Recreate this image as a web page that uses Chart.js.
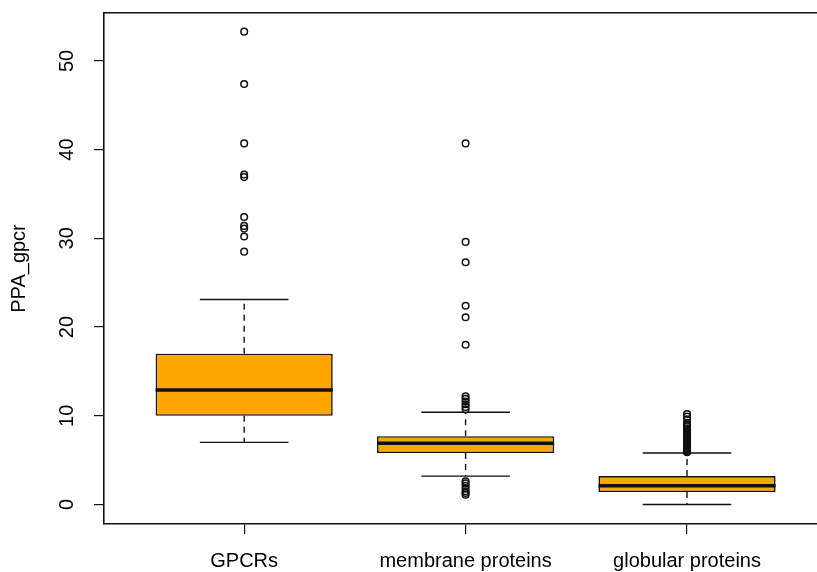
<!DOCTYPE html>
<html>
<head>
<meta charset="utf-8">
<script src="https://cdn.jsdelivr.net/npm/chart.js@4/dist/chart.umd.min.js"></script>
<style>
html,body{margin:0;padding:0;background:#fff;overflow:hidden}
canvas{display:block}
</style>
</head>
<body>
<canvas id="c" width="817" height="572"></canvas>
<script>
// boxplot stats
const groups = ["GPCRs","membrane proteins","globular proteins"];
const lowerWhisker = [7.0, 3.2, 0.0];
const q1 = [10.0, 5.8, 1.4];
const median = [12.9, 6.9, 2.1];
const q3 = [17.0, 7.7, 3.2];
const upperWhisker = [23.1, 10.4, 5.8];
const outGPCR = [53.3, 47.4, 40.7, 37.2, 36.9, 32.4, 31.4, 31.1, 30.2, 28.5];
const outMembrane = [40.7, 29.6, 27.3, 22.4, 21.1, 18.0, 12.2, 11.9, 11.6, 11.3, 11.0, 10.7,
  2.6, 2.4, 2.1, 1.8, 1.5, 1.3, 1.1];
const outGlobular = [10.2, 9.9, 9.6, 9.2, 9.0, 8.8, 8.6, 8.4, 8.3, 8.2, 8.1, 8.0, 7.9, 7.8, 7.7,
  7.6, 7.5, 7.4, 7.3, 7.2, 7.1, 7.0, 6.9, 6.8, 6.7, 6.6, 6.5, 6.4, 6.3, 6.2, 6.1, 6.0, 5.95, 5.9];
const yTicks = [0,10,20,30,40,50];

const BOXW = 0.8, CAPW = 0.4;
const INK = "#111";
const FONT = "'Liberation Sans', Arial, sans-serif";

const boxes = groups.map((g,i)=>({x:i+1, y:[q1[i], q3[i]]}));
const medians=[], stems=[], caps=[];
groups.forEach((g,i)=>{
  const c=i+1;
  medians.push({x:c-BOXW/2,y:median[i]},{x:c+BOXW/2,y:median[i]},{x:c,y:null});
  stems.push({x:c,y:q3[i]},{x:c,y:upperWhisker[i]},{x:c,y:null});
  stems.push({x:c,y:q1[i]},{x:c,y:lowerWhisker[i]},{x:c,y:null});
  caps.push({x:c-CAPW/2,y:upperWhisker[i]},{x:c+CAPW/2,y:upperWhisker[i]},{x:c,y:null});
  caps.push({x:c-CAPW/2,y:lowerWhisker[i]},{x:c+CAPW/2,y:lowerWhisker[i]},{x:c,y:null});
});
const outliers = [
  ...outGPCR.map(v=>({x:1,y:v})),
  ...outMembrane.map(v=>({x:2,y:v})),
  ...outGlobular.map(v=>({x:3,y:v}))
];

const yLabels = {
  id:"yLabels",
  afterDraw(chart){
    const ctx=chart.ctx, ys=chart.scales.y;
    ctx.save();
    ctx.fillStyle="#000";
    ctx.font="20px "+FONT;
    ctx.textAlign="center";
    ctx.textBaseline="middle";
    yTicks.forEach(v=>{
      ctx.save();
      ctx.translate(ys.left+67, ys.getPixelForValue(v));
      ctx.rotate(-Math.PI/2);
      ctx.fillText(String(v),0,0);
      ctx.restore();
    });
    ctx.restore();
  }
};

const lineDs = (data, dash, width, order) => ({
  type:"line", data, borderColor:INK, borderWidth:width, borderDash:dash,
  pointRadius:0, spanGaps:false, fill:false, order, borderCapStyle:"butt"
});
const noPad = s => { s.paddingLeft=0; s.paddingRight=0; s.paddingTop=0; s.paddingBottom=0; };

new Chart(document.getElementById("c"),{
  type:"bar",
  data:{datasets:[
    lineDs(stems,[6,5],1.4,4),
    lineDs(caps,[],1.4,3),
    {type:"bar",data:boxes,backgroundColor:"#FFA500",borderColor:INK,borderWidth:1.6,
      borderSkipped:false,categoryPercentage:1,barPercentage:BOXW,order:2},
    lineDs(medians,[],3.5,1),
    {type:"scatter",data:outliers,pointStyle:"circle",pointRadius:3.3,pointBorderWidth:1.5,
      pointBorderColor:INK,pointBackgroundColor:"rgba(0,0,0,0)",showLine:false,order:0}
  ]},
  options:{
    responsive:false,animation:false,
    layout:{padding:0,autoPadding:false},
    plugins:{legend:{display:false},tooltip:{enabled:false}},
    scales:{
      x:{type:"linear",position:"bottom",min:0.367,max:3.587,offset:false,
        afterBuildTicks:s=>{s.ticks=groups.map((g,i)=>({value:i+1}));},
        afterFit:s=>{s.height=48; noPad(s);},
        grid:{display:true,drawOnChartArea:false,drawTicks:true,tickLength:10,color:INK,lineWidth:1.2,offset:false},
        border:{display:true,color:INK,width:1.6},
        ticks:{autoSkip:false,maxRotation:0,minRotation:0,padding:15,color:"#000",
          font:{size:20,family:FONT},callback:v=>groups[v-1]||""}},
      xTop:{type:"linear",position:"top",min:0.367,max:3.587,offset:false,
        afterFit:s=>{s.height=13; noPad(s);},
        grid:{display:false},border:{display:true,color:INK,width:1.6},ticks:{display:false}},
      y:{type:"linear",position:"left",min:-2.2,max:55.4,
        afterBuildTicks:s=>{s.ticks=yTicks.map(v=>({value:v}));},
        afterFit:s=>{s.width=104; noPad(s);},
        grid:{display:true,drawOnChartArea:false,drawTicks:true,tickLength:10,color:INK,lineWidth:1.2},
        border:{display:true,color:INK,width:1.6},
        ticks:{display:false},
        title:{display:true,text:"PPA_gpcr",color:"#000",font:{size:20,family:FONT},padding:{top:7,bottom:0}}}
    }
  },
  plugins:[yLabels]
});
</script>
</body>
</html>
